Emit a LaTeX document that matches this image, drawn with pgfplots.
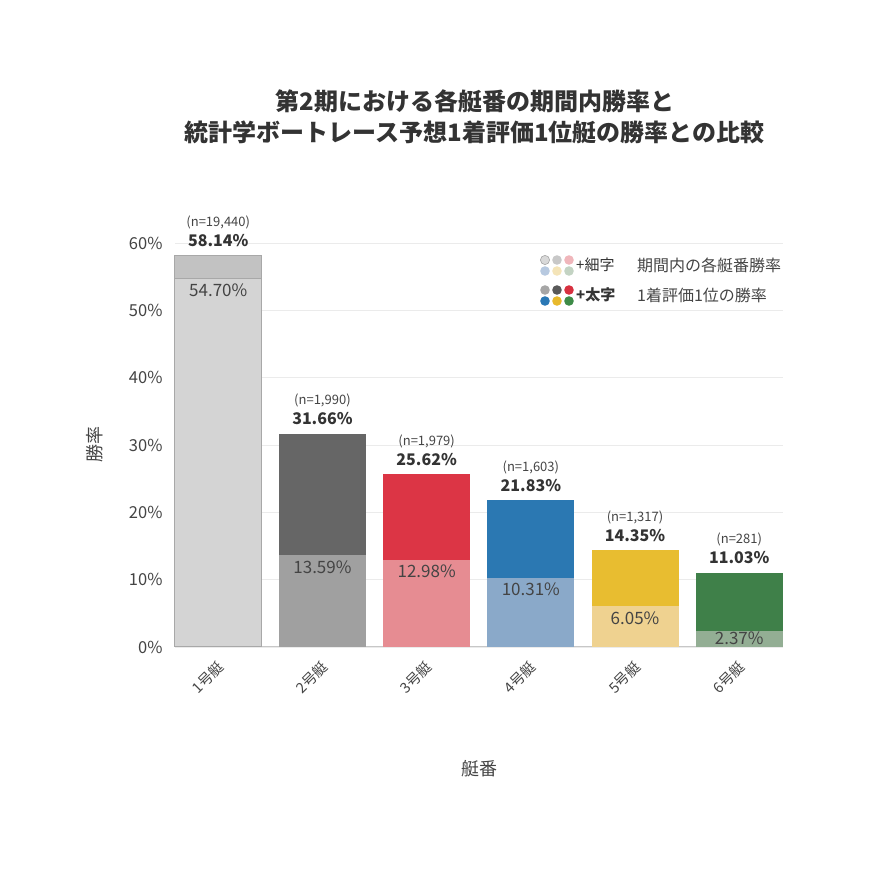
\documentclass[border=0pt]{standalone}
\usepackage{pgfplots}
\pgfplotsset{compat=1.18}
\usepackage{fontspec}
\setmainfont{Noto Sans CJK JP}
\definecolor{txt}{HTML}{333333}
\definecolor{txtl}{HTML}{444444}
\definecolor{dA}{HTML}{C2C2C2}\definecolor{lA}{HTML}{D4D4D4}\definecolor{bA}{HTML}{A8A8A8}
\definecolor{dB}{HTML}{666666}\definecolor{lB}{HTML}{A0A0A0}
\definecolor{dC}{HTML}{DC3545}\definecolor{lC}{HTML}{E68C92}
\definecolor{dD}{HTML}{2B78B2}\definecolor{lD}{HTML}{8AA9C9}
\definecolor{dE}{HTML}{E8BD30}\definecolor{lE}{HTML}{EFD290}
\definecolor{dF}{HTML}{3F8049}\definecolor{lF}{HTML}{93AE94}
\definecolor{g1}{HTML}{D9D9D9}\definecolor{g2}{HTML}{C8C8C8}\definecolor{g3}{HTML}{F0B6BB}
\definecolor{g4}{HTML}{B7C9E0}\definecolor{g5}{HTML}{F4E4B8}\definecolor{g6}{HTML}{C3D3C3}
\definecolor{h1}{HTML}{A6A6A6}\definecolor{h2}{HTML}{595959}\definecolor{h3}{HTML}{D7303F}
\definecolor{h4}{HTML}{2A78B5}\definecolor{h5}{HTML}{E8B92C}\definecolor{h6}{HTML}{3D8B47}
\newcommand{\toplabel}{\vbox{\baselineskip=20pt\lineskiplimit=-100pt\lineskip=0pt
  \hbox to 0pt{\hss\fontsize{13}{13}\selectfont\color{txtl}(n=\pgfplotspointmeta)\hss}
  \hbox to 0pt{\hss\fontsize{16}{16}\selectfont\bfseries\color{txt}\pgfmathprintnumber[fixed,fixed zerofill,precision=2]{\rawy}\%\hss}}}
\pgfplotsset{
  darkbar/.style={fill=#1, draw=none, bar shift=0pt, bar width=87pt,
    point meta=explicit symbolic, visualization depends on=y \as \rawy,
    nodes near coords={\toplabel},
    nodes near coords style={anchor=base, inner sep=0pt, yshift=9pt}},
  lightbar/.style={fill=#1, draw=none, bar shift=0pt, bar width=87pt,
    point meta=y,
    nodes near coords={\pgfmathprintnumber[fixed,fixed zerofill,precision=2]{\pgfplotspointmeta}\%},
    nodes near coords style={anchor=base, inner sep=0pt, yshift=-18pt, font=\fontsize{17}{17}\selectfont, text=txtl}},
}
\begin{document}
\begin{tikzpicture}
\useasboundingbox (0,0) rectangle (870pt,870pt);
\begin{axis}[
  at={(175pt,223pt)}, anchor=south west,
  scale only axis, width=608pt, height=404pt,
  ybar, clip=false,
  xmin=-0.415, xmax=5.42, ymin=0, ymax=60,
  xtick={0,1,2,3,4,5},
  xticklabels={1号艇,2号艇,3号艇,4号艇,5号艇,6号艇},
  ytick={0,10,20,30,40,50,60},
  yticklabel={\pgfmathprintnumber{\tick}\%},
  extra y ticks={0}, extra y tick labels={},
  extra y tick style={grid style={draw=black!22, line width=1pt}},
  /pgf/number format/assume math mode=true,
  major tick length=0pt,
  axis line style={draw=none},
  ymajorgrids, grid style={draw=black!8, line width=0.8pt},
  yticklabel style={anchor=east, xshift=-9pt, font=\fontsize{16.5}{16.5}\selectfont, text=txtl},
  xticklabel style={rotate=45, anchor=east, xshift=-7pt, yshift=-14pt, font=\fontsize{14.5}{14.5}\selectfont, text=txtl},
  xlabel={艇番}, ylabel={勝率},
  label style={font=\fontsize{18}{18}\selectfont, text=txtl},
  xlabel style={at={(axis description cs:0.5,-0.302)}, anchor=center},
  ylabel style={at={(axis description cs:-0.1316,0.5)}, anchor=center, rotate=0},
  title={第2期における各艇番の期間内勝率と\\統計学ボートレース予想1着評価1位艇の勝率との比較},
  title style={at={(axis description cs:0.493,1.2983)}, anchor=center, align=center,
    font=\fontsize{24}{31}\selectfont\bfseries, text=txt},
]
\addplot+[darkbar=dA, draw=bA, line width=1pt] coordinates {(0,58.14) [19,440]};
\addplot+[lightbar=lA, draw=bA, line width=1pt] coordinates {(0,54.70)};
\addplot+[darkbar=dB] coordinates {(1,31.66) [1,990]};
\addplot+[lightbar=lB] coordinates {(1,13.59)};
\addplot+[darkbar=dC] coordinates {(2,25.62) [1,979]};
\addplot+[lightbar=lC] coordinates {(2,12.98)};
\addplot+[darkbar=dD] coordinates {(3,21.83) [1,603]};
\addplot+[lightbar=lD] coordinates {(3,10.31)};
\addplot+[darkbar=dE] coordinates {(4,14.35) [1,317]};
\addplot+[lightbar=lE] coordinates {(4,6.05)};
\addplot+[darkbar=dF] coordinates {(5,11.03) [281]};
\addplot+[lightbar=lF, nodes near coords style={yshift=5pt}] coordinates {(5,2.37)};
\end{axis}
% legend
\begin{scope}[every node/.style={inner sep=0pt}]
\fill[g1] (545pt,610pt) circle (4.6pt);
\draw[color=black!35, line width=0.6pt] (545pt,610pt) circle (4.6pt);
\fill[g2] (557pt,610pt) circle (4.8pt);
\fill[g3] (569pt,610pt) circle (4.8pt);
\fill[g4] (545pt,599pt) circle (4.8pt);
\fill[g5] (557pt,599pt) circle (4.8pt);
\fill[g6] (569pt,599pt) circle (4.8pt);
\fill[h1] (545pt,580pt) circle (4.8pt);
\fill[h2] (557pt,580pt) circle (4.8pt);
\fill[h3] (569pt,580pt) circle (4.8pt);
\fill[h4] (545pt,569pt) circle (4.8pt);
\fill[h5] (557pt,569pt) circle (4.8pt);
\fill[h6] (569pt,569pt) circle (4.8pt);
\node[anchor=west, font=\fontsize{15}{15}\selectfont, text=txt] at (576pt,605pt) {+細字};
\node[anchor=west, font=\fontsize{15}{15}\selectfont\bfseries, text=txt] at (576pt,575pt) {+太字};
\node[anchor=west, font=\fontsize{16}{16}\selectfont, text=txtl] at (637pt,605pt) {期間内の各艇番勝率};
\node[anchor=west, font=\fontsize{16}{16}\selectfont, text=txtl] at (637pt,575pt) {1着評価1位の勝率};
\end{scope}
\end{tikzpicture}
\end{document}
